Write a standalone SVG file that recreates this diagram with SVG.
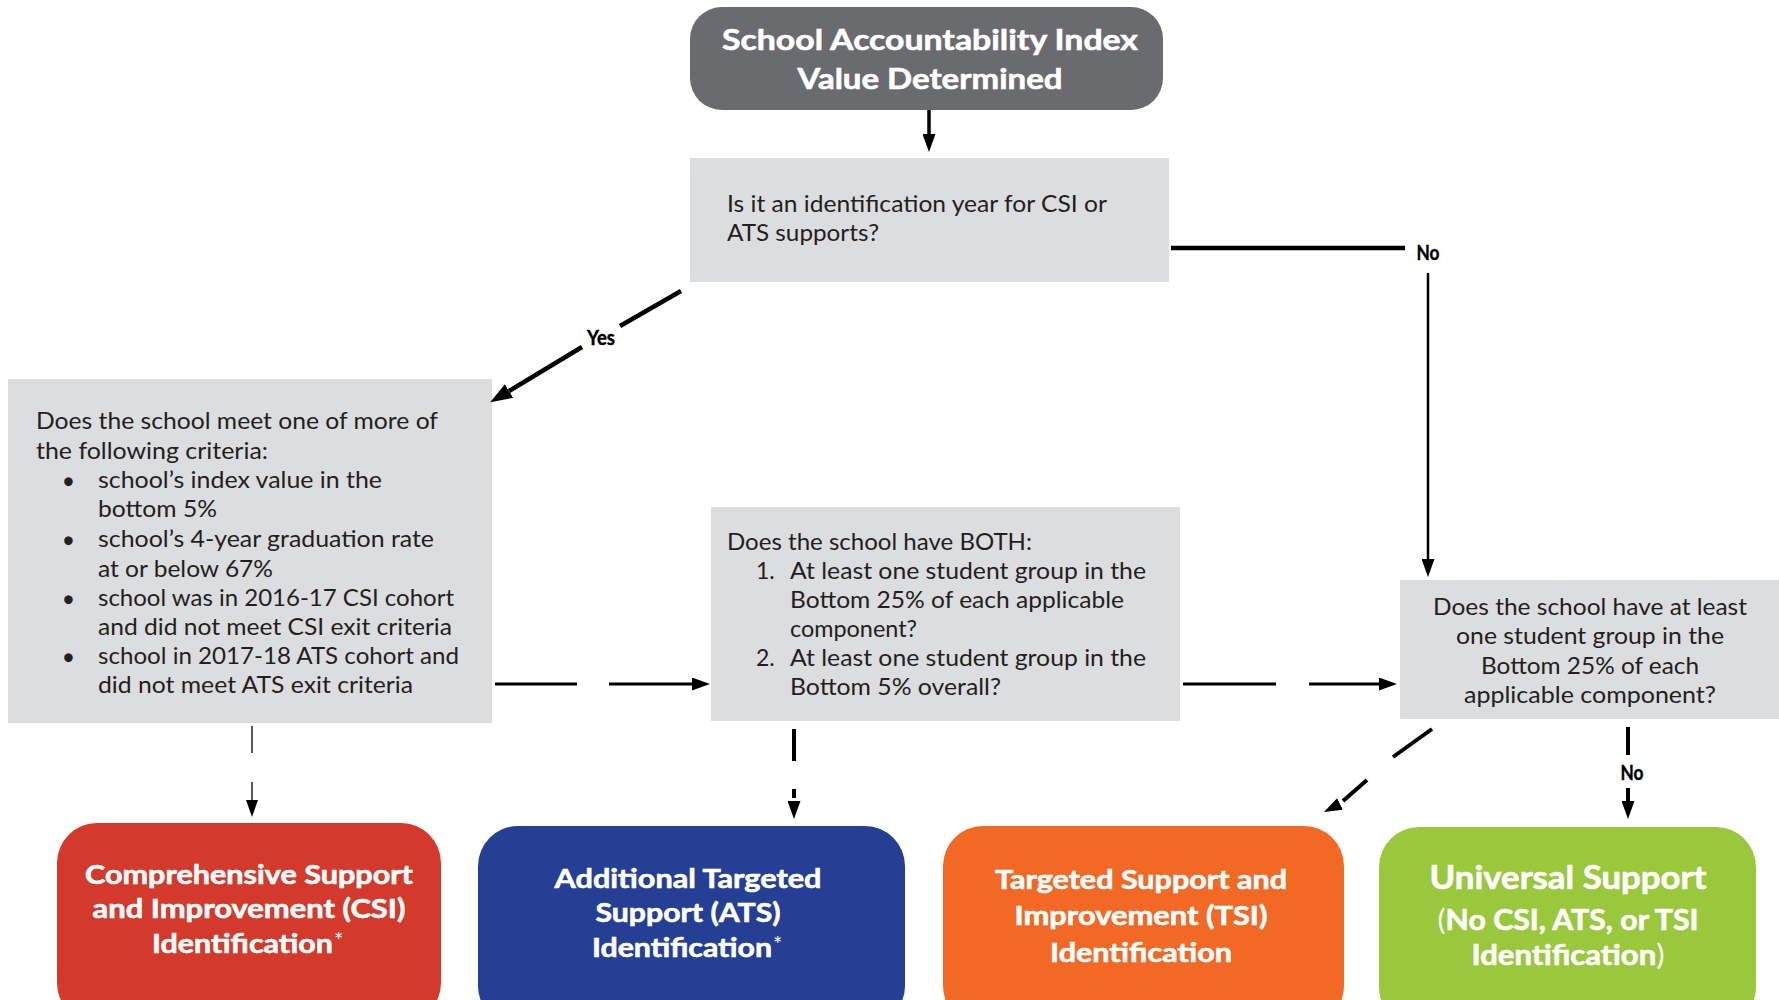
<svg xmlns="http://www.w3.org/2000/svg" width="1779" height="1000" viewBox="0 0 1779 1000">
<defs>
<style>
.q{fill:#dcdddf}
.t{font-family:Lato,"Liberation Sans",sans-serif;font-size:23px;fill:#231f20}
.m{text-anchor:middle}
.b{font-family:Lato,"Liberation Sans",sans-serif;font-weight:700;fill:#fff;stroke:#fff;stroke-width:0.6px;text-anchor:middle}
.s{text-anchor:start}
.ast{font-family:Lato,"Liberation Sans",sans-serif;font-weight:400;font-size:22px;fill:#fff}
.lbl{font-family:Lato,"Liberation Sans",sans-serif;font-weight:700;font-size:21px;fill:#000;stroke:#000;stroke-width:0.4px;text-anchor:middle}
.c{stroke:#000;fill:none;stroke-linecap:butt}
</style>
<marker id="ah" markerUnits="userSpaceOnUse" markerWidth="18" markerHeight="13" refX="0" refY="6.5" orient="auto" viewBox="0 0 18 13"><path d="M0,0L18,6.5L0,13z" fill="#000"/></marker>
<marker id="ahL" markerUnits="userSpaceOnUse" markerWidth="22" markerHeight="16" refX="0" refY="8" orient="auto" viewBox="0 0 22 16"><path d="M0,0L22,8L0,16z" fill="#000"/></marker>
<marker id="ahS" markerUnits="userSpaceOnUse" markerWidth="17" markerHeight="12" refX="0" refY="6" orient="auto" viewBox="0 0 17 12"><path d="M0,0L17,6L0,12z" fill="#000"/></marker>
</defs>
<rect width="1779" height="1000" fill="#fff"/>

<g id="start">
<rect x="690" y="7" width="473" height="103" rx="32" fill="#6a6b6f"/>
<text class="b" x="930" y="50" font-size="29" textLength="416" lengthAdjust="spacingAndGlyphs">School Accountability Index</text>
<text class="b" x="930" y="89" font-size="29" textLength="265" lengthAdjust="spacingAndGlyphs">Value Determined</text>
</g>

<g id="q-idyear">
<rect class="q" x="690" y="158" width="479" height="124"/>
<text class="t" x="727" y="212" textLength="380" lengthAdjust="spacingAndGlyphs">Is it an identification year for CSI or</text>
<text class="t" x="727" y="241" textLength="152" lengthAdjust="spacingAndGlyphs">ATS supports?</text>
</g>

<g id="q-csi">
<rect class="q" x="8" y="379" width="484" height="344"/>
<text class="t" x="36" y="429" textLength="402" lengthAdjust="spacingAndGlyphs">Does the school meet one of more of</text>
<text class="t" x="36" y="459" textLength="232" lengthAdjust="spacingAndGlyphs">the following criteria:</text>
<text class="t m" x="68.5" y="489" font-size="36">•</text>
<text class="t" x="98" y="488" textLength="284" lengthAdjust="spacingAndGlyphs">school’s index value in the</text>
<text class="t" x="98" y="517" textLength="119" lengthAdjust="spacingAndGlyphs">bottom 5%</text>
<text class="t m" x="68.5" y="548" font-size="36">•</text>
<text class="t" x="98" y="547" textLength="336" lengthAdjust="spacingAndGlyphs">school’s 4-year graduation rate</text>
<text class="t" x="98" y="577" textLength="175" lengthAdjust="spacingAndGlyphs">at or below 67%</text>
<text class="t m" x="68.5" y="607" font-size="36">•</text>
<text class="t" x="98" y="606" textLength="356" lengthAdjust="spacingAndGlyphs">school was in 2016-17 CSI cohort</text>
<text class="t" x="98" y="635" textLength="354" lengthAdjust="spacingAndGlyphs">and did not meet CSI exit criteria</text>
<text class="t m" x="68.5" y="665" font-size="36">•</text>
<text class="t" x="98" y="664" textLength="361" lengthAdjust="spacingAndGlyphs">school in 2017-18 ATS cohort and</text>
<text class="t" x="98" y="693" textLength="315" lengthAdjust="spacingAndGlyphs">did not meet ATS exit criteria</text>
</g>

<g id="q-ats">
<rect class="q" x="711" y="507" width="469" height="214"/>
<text class="t" x="727" y="550" textLength="305" lengthAdjust="spacingAndGlyphs">Does the school have BOTH:</text>
<text class="t" x="756" y="579">1.</text>
<text class="t" x="790" y="579" textLength="356" lengthAdjust="spacingAndGlyphs">At least one student group in the</text>
<text class="t" x="790" y="608" textLength="334" lengthAdjust="spacingAndGlyphs">Bottom 25% of each applicable</text>
<text class="t" x="790" y="637" textLength="127" lengthAdjust="spacingAndGlyphs">component?</text>
<text class="t" x="756" y="666">2.</text>
<text class="t" x="790" y="666" textLength="356" lengthAdjust="spacingAndGlyphs">At least one student group in the</text>
<text class="t" x="790" y="695" textLength="211" lengthAdjust="spacingAndGlyphs">Bottom 5% overall?</text>
</g>

<g id="q-tsi">
<rect class="q" x="1400" y="580" width="379" height="139"/>
<text class="t m" x="1590" y="615" textLength="314" lengthAdjust="spacingAndGlyphs">Does the school have at least</text>
<text class="t m" x="1590" y="644" textLength="268" lengthAdjust="spacingAndGlyphs">one student group in the</text>
<text class="t m" x="1590" y="674" textLength="218" lengthAdjust="spacingAndGlyphs">Bottom 25% of each</text>
<text class="t m" x="1590" y="703" textLength="252" lengthAdjust="spacingAndGlyphs">applicable component?</text>
</g>

<g id="csi">
<rect x="57" y="823" width="384" height="200" rx="40" fill="#d33a2b"/>
<text class="b" x="249" y="884" font-size="27" textLength="328" lengthAdjust="spacingAndGlyphs">Comprehensive Support</text>
<text class="b" x="249" y="918" font-size="27" textLength="313" lengthAdjust="spacingAndGlyphs">and Improvement (CSI)</text>
<text class="b s" x="152" y="953" font-size="27" textLength="181" lengthAdjust="spacingAndGlyphs">Identification</text>
<text class="ast" x="334" y="948">*</text>
</g>

<g id="ats">
<rect x="478" y="826" width="427" height="200" rx="40" fill="#243f93"/>
<text class="b" x="688" y="888" font-size="27" textLength="267" lengthAdjust="spacingAndGlyphs">Additional Targeted</text>
<text class="b" x="688" y="922" font-size="27" textLength="185" lengthAdjust="spacingAndGlyphs">Support (ATS)</text>
<text class="b s" x="592" y="957" font-size="27" textLength="180" lengthAdjust="spacingAndGlyphs">Identification</text>
<text class="ast" x="773" y="952">*</text>
</g>

<g id="tsi">
<rect x="943" y="826" width="401" height="200" rx="40" fill="#f26926"/>
<text class="b" x="1141" y="889" font-size="27" textLength="292" lengthAdjust="spacingAndGlyphs">Targeted Support and</text>
<text class="b" x="1141" y="925" font-size="27" textLength="253" lengthAdjust="spacingAndGlyphs">Improvement (TSI)</text>
<text class="b" x="1141" y="962" font-size="27" textLength="182" lengthAdjust="spacingAndGlyphs">Identification</text>
</g>

<g id="universal">
<rect x="1379" y="827" width="377" height="200" rx="40" fill="#9ac83d"/>
<text class="b" x="1568" y="889" font-size="32" textLength="277" lengthAdjust="spacingAndGlyphs">Universal Support</text>
<text class="b" x="1568" y="930" font-size="28" textLength="261" lengthAdjust="spacingAndGlyphs"><tspan font-weight="400" stroke-width="0">(</tspan>No CSI, ATS, or TSI</text>
<text class="b" x="1568" y="965" font-size="28" textLength="193" lengthAdjust="spacingAndGlyphs">Identification<tspan font-weight="400" stroke-width="0">)</tspan></text>
</g>

<g id="connectors">
<line class="c" x1="929" y1="110" x2="929" y2="134" stroke-width="3.5" marker-end="url(#ah)"/>
<line class="c" x1="681" y1="291" x2="620" y2="326" stroke-width="4.5"/>
<line class="c" x1="582" y1="347" x2="509" y2="391" stroke-width="4.5" marker-end="url(#ahL)"/>
<text class="lbl" x="601" y="345" font-size="23" textLength="28" lengthAdjust="spacingAndGlyphs">Yes</text>
<line class="c" x1="1171" y1="248" x2="1405" y2="248" stroke-width="4.5"/>
<text class="lbl" x="1428" y="260" textLength="23" lengthAdjust="spacingAndGlyphs">No</text>
<line class="c" x1="1428" y1="273" x2="1428" y2="559" stroke-width="2.5" marker-end="url(#ah)"/>
<line class="c" x1="495" y1="684" x2="577" y2="684" stroke-width="3"/>
<line class="c" x1="609" y1="684" x2="692" y2="684" stroke-width="3" marker-end="url(#ah)"/>
<line class="c" x1="1183" y1="684" x2="1276" y2="684" stroke-width="3"/>
<line class="c" x1="1309" y1="684" x2="1379" y2="684" stroke-width="3" marker-end="url(#ah)"/>
<line class="c" x1="252" y1="726" x2="252" y2="753" stroke-width="1.3"/>
<line class="c" x1="252" y1="782" x2="252" y2="800" stroke-width="1.3" marker-end="url(#ahS)"/>
<line class="c" x1="794" y1="729" x2="794" y2="761" stroke-width="4"/>
<line class="c" x1="794" y1="789" x2="794" y2="798" stroke-width="4"/>
<line class="c" x1="794" y1="798" x2="794" y2="801" stroke-width="0" marker-end="url(#ah)"/>
<line class="c" x1="1432" y1="729" x2="1393" y2="757" stroke-width="4"/>
<line class="c" x1="1367" y1="780" x2="1343" y2="801" stroke-width="4"/>
<line class="c" x1="1342" y1="803" x2="1340" y2="804" stroke-width="0" marker-end="url(#ah)"/>
<line class="c" x1="1628" y1="727" x2="1628" y2="755" stroke-width="4"/>
<text class="lbl" x="1632" y="780" textLength="23" lengthAdjust="spacingAndGlyphs">No</text>
<line class="c" x1="1628" y1="788" x2="1628" y2="801" stroke-width="4" marker-end="url(#ah)"/>
</g>
</svg>
